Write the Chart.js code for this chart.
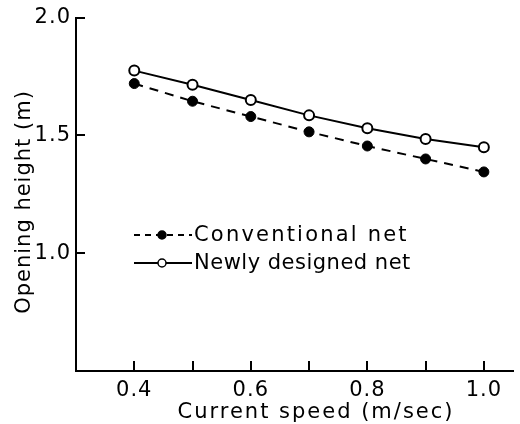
<!DOCTYPE html>
<html>
<head>
<meta charset="utf-8">
<script src="https://cdn.jsdelivr.net/npm/chart.js@4.4.0/dist/chart.umd.min.js"></script>
<style>
  html, body { margin: 0; padding: 0; background: #fff; }
  canvas { display: block; }
</style>
</head>
<body>
<canvas id="myChart" width="520" height="424"></canvas>
<script>
const speeds = [0.4, 0.5, 0.6, 0.7, 0.8, 0.9, 1.0];
const conventional = [1.72, 1.645, 1.58, 1.515, 1.455, 1.40, 1.345];
const newlyDesigned = [1.775, 1.715, 1.65, 1.585, 1.53, 1.485, 1.45];
const xTicks = [0.4, 0.5, 0.6, 0.7, 0.8, 0.9, 1.0];
const xTickLabels = ['0.4', '', '0.6', '', '0.8', '', '1.0'];
const yTicks = [1.0, 1.5, 2.0];
const yTickLabels = ['1.0', '1.5', '2.0'];
const seriesNames = ['Conventional net', 'Newly designed net'];
const xTitle = 'Current speed (m/sec)';
const yTitle = 'Opening height (m)';

const FONT = '"DejaVu Sans", sans-serif';

// inward tick marks, axis titles and the legend inside the plot
const paperPlugin = {
  id: 'paper',
  beforeDraw(chart) {
    // the old lettering is set a bit wide
    chart.ctx.letterSpacing = '1px';
  },
  afterDraw(chart) {
    const ctx = chart.ctx;
    const x = chart.scales.x, y = chart.scales.y;
    const area = chart.chartArea;
    ctx.save();
    ctx.strokeStyle = '#000';
    ctx.lineWidth = 2;
    ctx.setLineDash([]);
    xTicks.forEach(v => {
      const px = Math.round(x.getPixelForValue(v));
      ctx.beginPath();
      ctx.moveTo(px, area.bottom);
      ctx.lineTo(px, area.bottom - 10);
      ctx.stroke();
    });
    yTicks.forEach(v => {
      const py = Math.round(y.getPixelForValue(v));
      ctx.beginPath();
      ctx.moveTo(area.left, py);
      ctx.lineTo(area.left + 9, py);
      ctx.stroke();
    });

    ctx.fillStyle = '#000';
    ctx.font = '21px ' + FONT;
    ctx.textAlign = 'center';
    ctx.textBaseline = 'middle';
    ctx.letterSpacing = '2px';
    ctx.fillText(xTitle, 316, 413);
    ctx.save();
    ctx.letterSpacing = '1px';
    ctx.translate(25, 202);
    ctx.rotate(-Math.PI / 2);
    ctx.fillText(yTitle, 0, 0);
    ctx.restore();

    // legend
    const rows = [235, 263];
    const spacing = ['2.2px', '0.5px'];
    chart.data.datasets.forEach((ds, i) => {
      const ly = rows[i];
      ctx.beginPath();
      ctx.lineWidth = 2;
      ctx.setLineDash(i === 0 ? [6, 5] : []);
      ctx.moveTo(134, ly);
      ctx.lineTo(192, ly);
      ctx.stroke();
      ctx.setLineDash([]);
      ctx.beginPath();
      ctx.arc(162, ly, 4, 0, Math.PI * 2);
      ctx.fillStyle = ds.pointBackgroundColor;
      ctx.fill();
      ctx.lineWidth = 1.5;
      ctx.stroke();
      ctx.fillStyle = '#000';
      ctx.textAlign = 'left';
      ctx.letterSpacing = spacing[i];
      ctx.fillText(ds.label, 194, ly + 1);
    });
    ctx.restore();
  }
};

const ctx = document.getElementById('myChart');

new Chart(ctx, {
  type: 'line',
  data: {
    datasets: [{
      label: seriesNames[0],
      data: speeds.map((s, i) => ({ x: s, y: conventional[i] })),
      borderColor: '#000',
      borderWidth: 2,
      borderDash: [9, 7],
      pointRadius: 5,
      pointBackgroundColor: '#000',
      pointBorderColor: '#000',
      pointBorderWidth: 1
    }, {
      label: seriesNames[1],
      data: speeds.map((s, i) => ({ x: s, y: newlyDesigned[i] })),
      borderColor: '#000',
      borderWidth: 2,
      pointRadius: 5,
      pointBackgroundColor: '#fff',
      pointBorderColor: '#000',
      pointBorderWidth: 2
    }]
  },
  options: {
    responsive: false,
    animation: false,
    layout: { padding: { top: 17, right: 0, left: 0, bottom: 0 } },
    plugins: {
      legend: { display: false },
      tooltip: { enabled: false }
    },
    scales: {
      x: {
        type: 'linear',
        min: 0.3,
        max: 1.05,
        afterBuildTicks: scale => { scale.ticks = xTicks.map(v => ({ value: v })); },
        afterFit: scale => { scale.height = 53; },
        grid: { display: false, drawTicks: false },
        border: { display: true, color: '#000', width: 2 },
        ticks: {
          color: '#000',
          font: { family: FONT, size: 21 },
          padding: 7,
          maxRotation: 0,
          autoSkip: false,
          callback: (v, i) => xTickLabels[i]
        }
      },
      y: {
        min: 0.5,
        max: 2.0,
        afterBuildTicks: scale => { scale.ticks = yTicks.map(v => ({ value: v })); },
        afterFit: scale => { scale.width = 76; },
        grid: { display: false, drawTicks: false },
        border: { display: true, color: '#000', width: 2 },
        ticks: {
          color: '#000',
          font: { family: FONT, size: 21 },
          padding: 5,
          callback: (v, i) => yTickLabels[i]
        }
      }
    }
  },
  plugins: [paperPlugin]
});
</script>
</body>
</html>
